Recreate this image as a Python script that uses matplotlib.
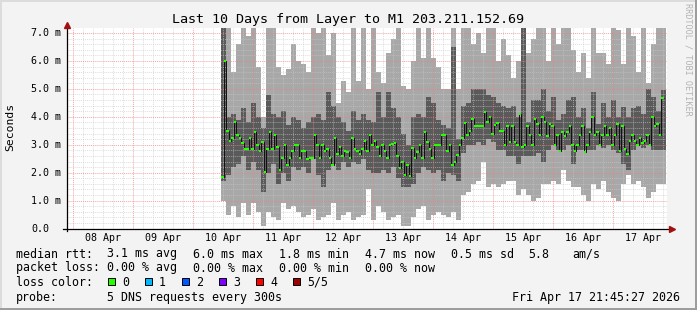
import numpy as np
import matplotlib
matplotlib.use("Agg")
import matplotlib.pyplot as plt
from matplotlib.patches import Rectangle

# ---- data (hours since 08 Apr 00:00, values in ms) ----
x_start = -2.2425          # left edge of graph: Apr 07 21:45:27
x_end = 237.7575           # right edge: Apr 17 21:45:27
data_start = 59.5          # first sample

# hourly median rtt
median = [
    1.85, 6.0, 3.5, 3.12, 3.24, 3.81, 3.36, 3.24, 3.05, 2.86, 2.86, 3.24, 2.86, 3.44, 2.98,
    2.79, 3.1, 2.03, 2.86, 3.44, 2.86, 3.36, 2.93, 2.1, 2.52, 3.0, 2.28, 2.52, 2.79,
    3.0, 3.0, 2.52, 2.79, 2.79, 2.49, 2.52, 2.52, 3.36, 3.0, 2.52, 3.0, 2.79, 2.86, 2.52,
    2.28, 3.24, 2.67, 2.93, 2.6, 2.79, 2.73, 2.52, 3.24, 2.86, 2.79, 2.67, 2.86, 3.12,
    2.79, 3.36, 3.0, 3.12, 2.93, 2.6, 3.0, 2.79, 2.52, 3.0, 3.03, 3.08, 2.6, 2.16, 2.39,
    1.92, 2.28, 1.87, 2.88, 2.52, 2.74, 3.0, 2.52, 3.44, 3.1, 2.86, 2.52, 3.0, 3.0, 3.0,
    3.36, 3.36, 2.79, 3.0, 2.28, 2.4, 2.64, 3.0, 3.24, 3.77, 3.36, 3.48, 3.93, 3.68, 3.68,
    3.68, 3.68, 4.18, 3.82, 4.0, 3.39, 3.7, 3.77, 3.51, 3.51, 3.0, 3.68, 3.1, 3.68, 3.1,
    3.0, 4.09, 2.93, 3.0, 3.68, 3.36, 3.0, 3.94, 3.73, 3.36, 4.0, 3.82, 3.32, 3.73, 3.68,
    3.0, 3.36, 2.79, 3.44, 3.32, 3.44, 3.68, 3.0, 2.79, 3.0, 3.36, 3.68, 2.74, 3.0, 3.44,
    4.0, 3.36, 3.44, 3.0, 3.36, 3.68, 3.36, 3.6, 3.0, 3.36, 3.75, 2.79, 3.68, 2.86, 2.67,
    3.12, 3.36, 3.12, 3.0, 3.24, 3.05, 3.15, 3.36, 3.0, 4.0, 3.68, 3.73, 3.36, 4.69,
]

# smoke, 2-hour steps: sorted pings (p1 lowest .. p5 highest)
ping5 = [
    7.4, 7.4, 5.6, 6.6, 7.4, 6.9, 7.4, 5.8, 4.0, 7.2, 7.4, 5.8, 5.5, 5.7,
    6.6, 6.0, 5.9, 5.6, 7.4, 7.0, 7.4, 6.2, 7.0, 4.5, 5.3, 4.9, 7.4, 5.3, 7.4,
    5.0, 7.4, 5.6, 5.2, 6.3, 6.8, 7.4, 5.1, 5.0, 6.0, 7.4, 6.1, 7.4, 6.1, 5.8,
    5.0, 5.0, 7.4, 5.0, 7.4, 7.4, 6.6, 7.0, 6.3, 7.4, 7.4, 6.0, 6.8, 6.2, 5.4,
    6.0, 7.4, 6.3, 6.8, 7.4, 7.4, 6.0, 7.4, 6.6, 7.4, 7.3, 6.4, 5.6, 6.3, 5.4,
    7.4, 6.3, 6.3, 5.9, 7.4, 7.1, 5.9, 7.4, 6.9, 5.6, 7.4, 5.2, 6.6, 7.4, 7.4,
]
ping4 = [
    7.4, 4.0, 4.1, 3.9, 4.3, 3.8, 4.5, 4.0, 3.6, 4.8, 4.1, 4.0, 4.2, 3.7,
    4.0, 3.9, 3.6, 3.8, 4.0, 4.1, 3.9, 4.9, 4.4, 4.0, 3.8, 3.5, 4.2, 3.9, 4.1,
    3.9, 3.8, 4.9, 4.0, 4.9, 4.3, 4.0, 3.4, 3.0, 4.0, 4.1, 4.0, 4.7, 4.5, 3.9,
    3.7, 3.6, 6.5, 3.2, 4.4, 4.5, 5.0, 5.0, 5.0, 4.8, 4.7, 4.5, 4.4, 4.3, 4.4,
    4.0, 7.4, 3.8, 4.6, 4.6, 5.0, 4.2, 4.7, 3.9, 4.1, 4.6, 4.7, 4.0, 4.3, 3.6,
    4.9, 3.75, 4.5, 4.0, 4.6, 4.0, 4.35, 4.0, 4.3, 4.4, 4.1, 5.0, 4.7, 4.2, 4.95,
]
ping2 = [
    1.7, 1.9, 2.2, 2.3, 2.6, 2.1, 2.4, 2.1, 1.3, 2.0, 2.3, 1.6, 2.0, 1.7,
    2.2, 2.1, 2.2, 2.0, 2.5, 1.9, 1.5, 2.1, 2.3, 2.1, 2.4, 2.2, 2.4, 2.3, 2.5,
    2.1, 2.0, 2.0, 2.1, 2.0, 2.2, 1.8, 1.5, 1.5, 1.6, 2.0, 2.2, 2.1, 2.0, 2.1,
    1.7, 2.0, 1.9, 1.7, 2.7, 3.0, 3.0, 3.1, 3.0, 3.2, 3.1, 2.8, 2.8, 2.6, 2.6,
    2.3, 2.6, 2.6, 2.6, 2.7, 2.4, 2.8, 3.0, 2.8, 2.8, 3.0, 2.3, 2.8, 2.8, 2.8,
    2.8, 3.0, 2.9, 3.0, 2.8, 2.7, 2.3, 2.1, 2.8, 3.0, 2.9, 3.0, 2.8, 2.8, 2.8,
]
ping1 = [
    1.0, 0.5, 0.8, 0.4, 0.9, 0.5, 0.9, 0.6, 0.1, 0.6, 0.4, 0.3, 0.9, 0.7,
    0.8, 0.6, 0.4, 0.5, 0.7, 0.3, 0.4, 0.5, 0.9, 0.3, 0.5, 0.6, 0.3, 0.4, 0.5,
    1.4, 0.3, 0.8, 0.6, 0.3, 0.4, 0.5, 0.1, 0.1, 0.4, 0.7, 0.8, 0.3, 0.5, 0.6,
    0.5, 0.4, 0.6, 0.3, 1.2, 1.3, 1.6, 1.7, 2.4, 1.5, 1.6, 1.5, 1.6, 1.7, 1.7,
    1.2, 1.4, 1.2, 1.0, 1.1, 1.6, 1.6, 1.7, 1.6, 2.1, 1.7, 1.5, 1.5, 1.2, 1.0,
    1.6, 1.4, 1.7, 1.3, 1.1, 1.0, 1.6, 1.9, 1.6, 1.7, 1.5, 1.1, 1.3, 1.6, 1.6,
]

day_labels = ["08 Apr", "09 Apr", "10 Apr", "11 Apr", "12 Apr",
              "13 Apr", "14 Apr", "15 Apr", "16 Apr", "17 Apr"]
y_labels = ["0.0", "1.0 m", "2.0 m", "3.0 m", "4.0 m", "5.0 m", "6.0 m", "7.0 m"]
loss_names = ["0", "1", "2", "3", "4", "5/5"]
loss_colors = ["#26ff00", "#00b8ff", "#0059ff", "#7e00ff", "#ff0000", "#a10000"]

# ---- figure ----
W, H = 697, 310
MONO = "DejaVu Sans Mono"
plt.rcParams["font.family"] = MONO

fig = plt.figure(figsize=(W / 100, H / 100), dpi=100)
fig.patch.set_facecolor("#f3f3f3")

def fx(x):
    return x / W

def fy(y):
    return 1 - y / H

ax = fig.add_axes([fx(67), fy(228.5), 600 / W, 201 / H])
ax.set_facecolor("white")
ax.set_xlim(x_start, x_end)
ax.set_ylim(0, 7.2)
for s in ax.spines.values():
    s.set_visible(False)

# smoke
smoke_edges = data_start + 2.0 * np.arange(len(ping5) + 1)
ax.stairs(ping5, smoke_edges, baseline=ping1, fill=True, color="#a8a8a8", lw=0, zorder=1)
ax.stairs(ping4, smoke_edges, baseline=ping2, fill=True, color="#5a5a5a", lw=0, zorder=1.5)

# grid on top of the smoke (rrdtool style)
for h in np.arange(0.2, 7.2, 0.2):
    if abs(h - round(h)) > 0.01:
        ax.axhline(h, color="#c8c8c8", lw=0.7, ls=(0, (1, 1)), alpha=0.6, zorder=2)
for t in np.arange(0, x_end, 4):
    if t % 24:
        ax.axvline(t, color="#c8c8c8", lw=0.7, ls=(0, (1, 1)), alpha=0.6, zorder=2)
for h in range(1, 8):
    ax.axhline(h, color="#f08080", lw=0.7, ls=(0, (1, 1)), alpha=0.7, zorder=2.1)
for t in np.arange(0, x_end, 24):
    ax.axvline(t, color="#f08080", lw=0.7, ls=(0, (1, 1)), alpha=0.7, zorder=2.1)

# median: dark connecting line plus green loss-colour segments
med_edges = data_start + np.arange(len(median) + 1)
ax.stairs(median, med_edges, baseline=None, color="#101010", lw=0.7, zorder=3)
ax.hlines(median, med_edges[:-1], med_edges[1:], color=loss_colors[0], lw=1.5, zorder=4)

# axes lines and arrows
ax.plot([0, 0], [-0.012, 1.0], transform=ax.transAxes, color="black", lw=0.9, clip_on=False, zorder=5)
ax.plot([-0.007, 1.003], [0, 0], transform=ax.transAxes, color="black", lw=0.9, clip_on=False, zorder=5)
ax.plot([0], [1.01], marker="^", ms=5, color="#a01010", transform=ax.transAxes, clip_on=False, zorder=6)
ax.plot([1.008], [0], marker=">", ms=5, color="#a01010", transform=ax.transAxes, clip_on=False, zorder=6)

# ticks
ax.set_xticks([12 + 24 * i for i in range(len(day_labels))])
ax.set_xticklabels(day_labels, fontsize=7.2, family=MONO)
ax.tick_params(axis="x", length=0, pad=3.5)
ax.set_yticks([])
ytrans = ax.get_yaxis_transform()
for i, lab in enumerate(y_labels):
    ax.text(-36 / 600, i, lab, transform=ytrans, ha="left", va="center",
            fontsize=7.2, family=MONO, clip_on=False)

# titles
fig.text(fx(348), fy(19), "Last 10 Days from Layer to M1 203.211.152.69",
         ha="center", va="center", fontsize=9.6, family=MONO)
fig.text(fx(10), fy(127), "Seconds", rotation=90, ha="center", va="center",
         fontsize=8.2, family=MONO)
fig.text(fx(688), fy(3), "RRDTOOL / TOBI OETIKER", rotation=270, ha="center", va="top",
         fontsize=6.1, family=MONO, color="#b4b4b4")

# legend block
LS = 8.4
def line(x, y, s):
    fig.text(fx(x), fy(y), s, ha="left", va="center", fontsize=LS, family=MONO)

line(16, 254, "median rtt:")
for xpos, s in [(107, "3.1 ms avg"), (193, "6.0 ms max"), (279, "1.8 ms min"),
                (365, "4.7 ms now"), (451, "0.5 ms sd"), (528, "5.8"), (572, "am/s")]:
    line(xpos, 254, s)
line(16, 268, "packet loss:")
for xpos, s in [(107, "0.00 % avg"), (193, "0.00 % max"), (279, "0.00 % min"), (365, "0.00 % now")]:
    line(xpos, 268, s)
line(16, 282, "loss color:")
for i, (name, col) in enumerate(zip(loss_names, loss_colors)):
    sx = 108 + 37 * i
    fig.patches.append(Rectangle((fx(sx), fy(285)), 7 / W, 7 / H, transform=fig.transFigure,
                                 facecolor=col, edgecolor="black", lw=0.7))
    line(sx + 14, 282, name)
line(16, 297, "probe:")
line(107, 297, "5 DNS requests every 300s")
fig.text(fx(680), fy(297), "Fri Apr 17 21:45:27 2026", ha="right", va="center",
         fontsize=LS, family=MONO)

# 3d-ish frame
fig.patches.append(Rectangle((0, 0), 1, 2 / H, transform=fig.transFigure, color="#9d9d9d", lw=0))
fig.patches.append(Rectangle((1 - 2 / W, 0), 2 / W, 1, transform=fig.transFigure, color="#9d9d9d", lw=0))
fig.patches.append(Rectangle((0, 1 - 2 / H), 1 - 2 / W, 2 / H, transform=fig.transFigure, color="#dcdcdc", lw=0))
fig.patches.append(Rectangle((0, 2 / H), 2 / W, 1 - 2 / H, transform=fig.transFigure, color="#dcdcdc", lw=0))

fig.savefig("out.png", dpi=100, facecolor=fig.get_facecolor())
